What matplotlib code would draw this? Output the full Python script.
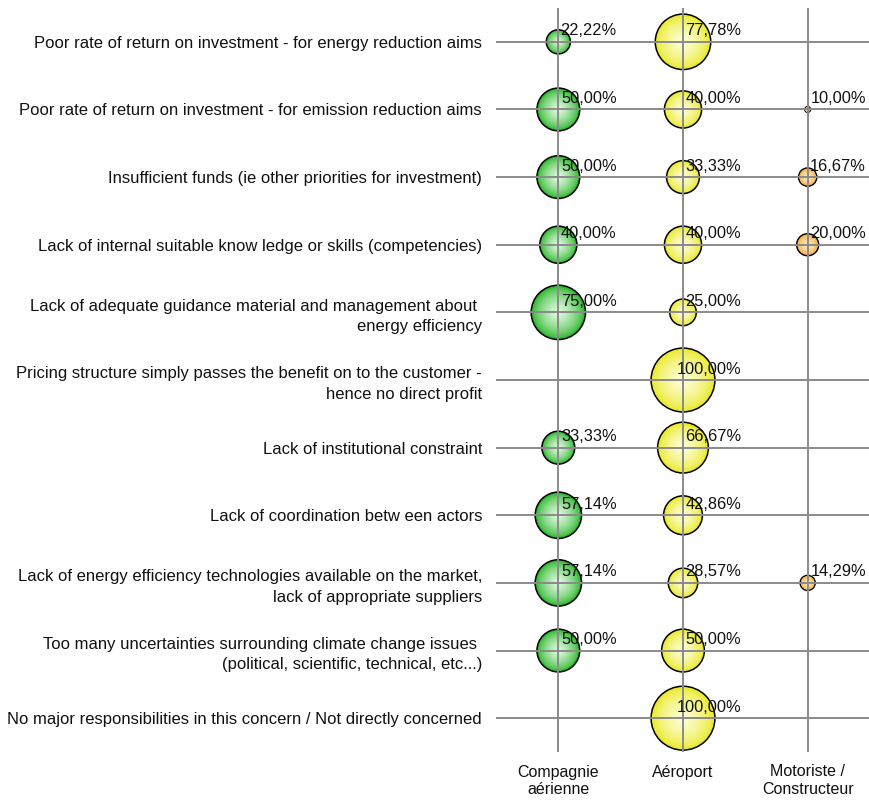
import numpy as np
import matplotlib.pyplot as plt
from matplotlib.colors import to_rgb

plt.rcParams['font.family'] = ['Liberation Sans', 'DejaVu Sans']

# Barriers (rows, top to bottom)
barriers = [
    "Poor rate of return on investment - for energy reduction aims",
    "Poor rate of return on investment - for emission reduction aims",
    "Insufficient funds (ie other priorities for investment)",
    "Lack of internal suitable know ledge or skills (competencies)",
    "Lack of adequate guidance material and management about \nenergy efficiency",
    "Pricing structure simply passes the benefit on to the customer -\nhence no direct profit",
    "Lack of institutional constraint",
    "Lack of coordination betw een actors",
    "Lack of energy efficiency technologies available on the market,\nlack of appropriate suppliers",
    "Too many uncertainties surrounding climate change issues \n(political, scientific, technical, etc...)",
    "No major responsibilities in this concern / Not directly concerned",
]

actors = ["Compagnie\naérienne", "Aéroport", "Motoriste /\nConstructeur"]

# share of answers per actor (%), nan = no answer
compagnie = [22.22, 50.00, 50.00, 40.00, 75.00, np.nan, 33.33, 57.14, 57.14, 50.00, np.nan]
aeroport = [77.78, 40.00, 33.33, 40.00, 25.00, 100.00, 66.67, 42.86, 28.57, 50.00, 100.00]
motoriste = [np.nan, 10.00, 16.67, 20.00, np.nan, np.nan, np.nan, np.nan, 14.29, np.nan, np.nan]

series = [compagnie, aeroport, motoriste]
edge_colors = ["#30b830", "#eaea30", "#f2ae40"]
light_colors = ["#ecfdec", "#ffffe6", "#fff0d4"]

FS = 11.8


def bubble_area(p):
    # bubble area grows with the percentage (smallest answers shrink to a dot)
    return 23.3 * np.clip(p - 9.3, 0.6, None)


def shaded_bubbles(ax, x, y, sizes, base, light, layers=16):
    """Draw bubbles with a soft radial shading, black outline on the outer ring."""
    base = np.array(to_rgb(base))
    light = np.array(to_rgb(light))
    ax.scatter(x, y, s=sizes, color=base, edgecolor='black', linewidth=1.1, zorder=1)
    for i in range(1, layers):
        frac = 1 - i / layers
        t = (i / layers) ** 0.7
        col = base + (light - base) * t
        ax.scatter(x, y, s=sizes * frac ** 2 * 0.95, color=col, linewidth=0, zorder=1.1 + i * 0.01)


fig = plt.figure(figsize=(8.7, 8), dpi=100)
ax = fig.add_axes([496 / 870, 48 / 800, 374 / 870, 744 / 800])

rows = np.arange(len(barriers))
for col, (vals, ec, lc) in enumerate(zip(series, edge_colors, light_colors), start=1):
    vals = np.array(vals, dtype=float)
    mask = ~np.isnan(vals)
    xs = np.full(mask.sum(), col)
    ys = rows[mask]
    shaded_bubbles(ax, xs, ys, bubble_area(vals[mask]), ec, lc)
    for yy, v in zip(ys, vals[mask]):
        label = f"{v:.2f}%".replace('.', ',')
        ax.annotate(label, xy=(col, yy), xytext=(42, 7.9), textcoords='offset points',
                    ha='right', va='center', fontsize=FS, color='#111111', zorder=5)

ax.set_xlim(0.5, 3.5)
ax.set_ylim(len(barriers) - 0.5, -0.5)
ax.set_xticks([1, 2, 3])
ax.set_xticklabels(actors, fontsize=11.5, color='#111111', linespacing=1.2)
ax.set_yticks(rows)
ax.set_yticklabels(barriers, fontsize=12, color='#111111', linespacing=1.45)
ax.tick_params(axis='both', length=0)
ax.tick_params(axis='y', pad=10)
ax.tick_params(axis='x', pad=9)

ax.set_axisbelow(False)
ax.grid(True, color='#8a8a8a', linewidth=1.4)
for sp in ax.spines.values():
    sp.set_visible(False)

fig.savefig('out.png', dpi=100)
